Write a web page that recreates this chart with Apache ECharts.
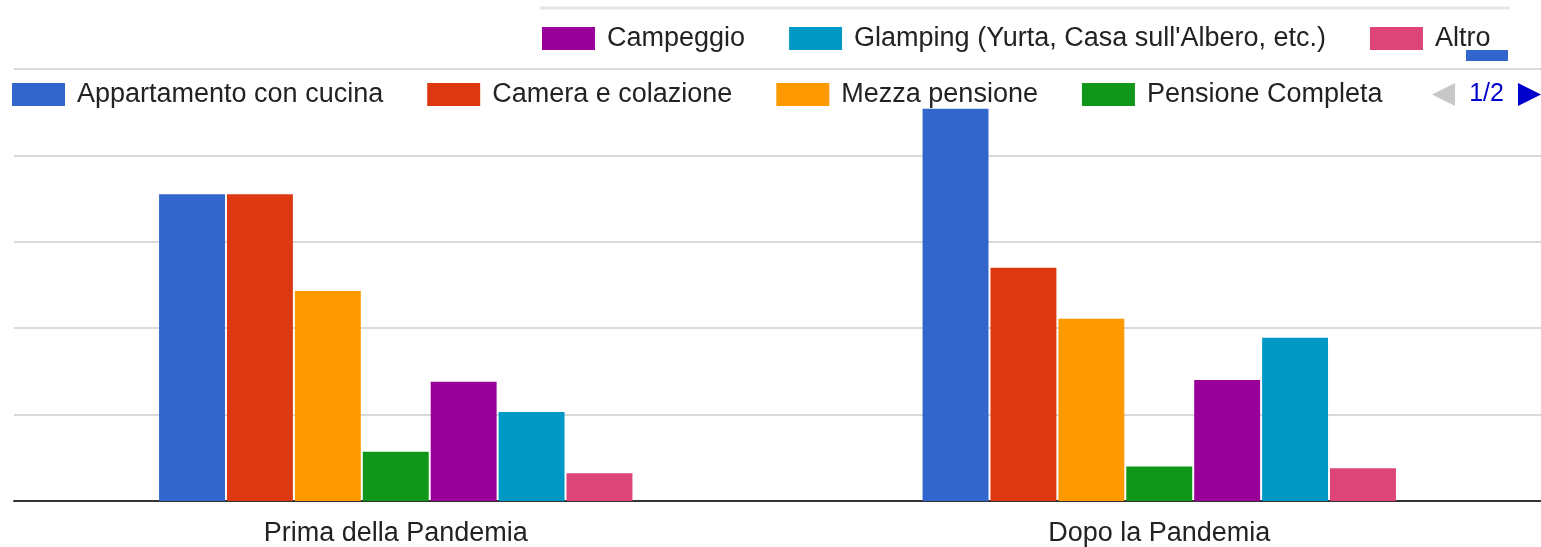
<!DOCTYPE html>
<html>
<head>
<meta charset="utf-8">
<script src="https://cdn.jsdelivr.net/npm/echarts@6/dist/echarts.min.js"></script>
<style>
  html, body { margin: 0; padding: 0; background: #fff; }
  #chart { width: 1541px; height: 547px; }
</style>
</head>
<body>
<div id="chart"></div>
<script>
// periods on the x axis
var periods = ['Prima della Pandemia', 'Dopo la Pandemia'];

// one series per accommodation type, values as [prima, dopo]
var appartamento = [35.5, 45.4];
var camera = [35.5, 27.0];
var mezzaPensione = [24.3, 21.1];
var pensioneCompleta = [5.7, 4.0];
var campeggio = [13.8, 14.0];
var glamping = [10.3, 18.9];
var altro = [3.2, 3.8];

var seriesNames = [
  'Appartamento con cucina',
  'Camera e colazione',
  'Mezza pensione',
  'Pensione Completa',
  'Campeggio',
  "Glamping (Yurta, Casa sull'Albero, etc.)",
  'Altro'
];
var seriesData = [appartamento, camera, mezzaPensione, pensioneCompleta, campeggio, glamping, altro];
var colors = ['#3366cc', '#dc3912', '#ff9900', '#109618', '#990099', '#0099c6', '#dd4477'];

var font = 'Liberation Sans, Arial, sans-serif';

var series = seriesNames.map(function (name, i) {
  return {
    name: name,
    type: 'bar',
    barGap: '3%',
    barCategoryGap: '38%',
    itemStyle: { color: colors[i] },
    data: seriesData[i]
  };
});

var legendText = { fontSize: 27, color: '#222', fontFamily: font, padding: [0, 0, 0, 7] };

var option = {
  animation: false,
  color: colors,
  textStyle: { fontFamily: font },
  legend: [
    {
      // second row, paged
      type: 'scroll',
      left: 12,
      right: 0,
      top: 81,
      padding: 0,
      icon: 'rect',
      itemWidth: 53,
      itemHeight: 23,
      itemGap: 44,
      textStyle: legendText,
      pageIcons: {
        horizontal: ['path://M10,0L0,5L10,10Z', 'path://M0,0L10,5L0,10Z']
      },
      pageButtonItemGap: 3,
      pageButtonGap: 20,
      pageIconSize: [23, 24],
      pageIconColor: '#0000cc',
      pageIconInactiveColor: '#c8c8c8',
      pageTextStyle: { color: '#0000cc', fontSize: 25, fontFamily: font },
      data: seriesNames
    },
    {
      // top row
      left: 542,
      top: 25,
      padding: 0,
      icon: 'rect',
      itemWidth: 53,
      itemHeight: 23,
      itemGap: 44,
      textStyle: legendText,
      data: seriesNames.slice(4)
    }
  ],
  graphic: [
    {
      type: 'line',
      shape: { x1: 540, y1: 8, x2: 1510, y2: 8 },
      style: { stroke: '#e6e6e6', lineWidth: 3 }
    },
    {
      type: 'rect',
      shape: { x: 1466, y: 50, width: 42, height: 11 },
      style: { fill: '#3366cc' }
    }
  ],
  grid: {
    left: 14,
    top: 69,
    width: 1530,
    bottom: 46
  },
  xAxis: {
    type: 'category',
    data: periods,
    axisTick: { show: false },
    axisLine: { lineStyle: { color: '#333', width: 2 } },
    axisLabel: { fontSize: 27, color: '#222', margin: 19, fontFamily: font }
  },
  yAxis: {
    type: 'value',
    min: 0,
    max: 50,
    interval: 10,
    axisLabel: { show: false },
    axisLine: { show: false },
    axisTick: { show: false },
    splitLine: { lineStyle: { color: '#d9d9d9', width: 2 } }
  },
  series: series
};

var chart = echarts.init(document.getElementById('chart'));
chart.setOption(option);
</script>
</body>
</html>
